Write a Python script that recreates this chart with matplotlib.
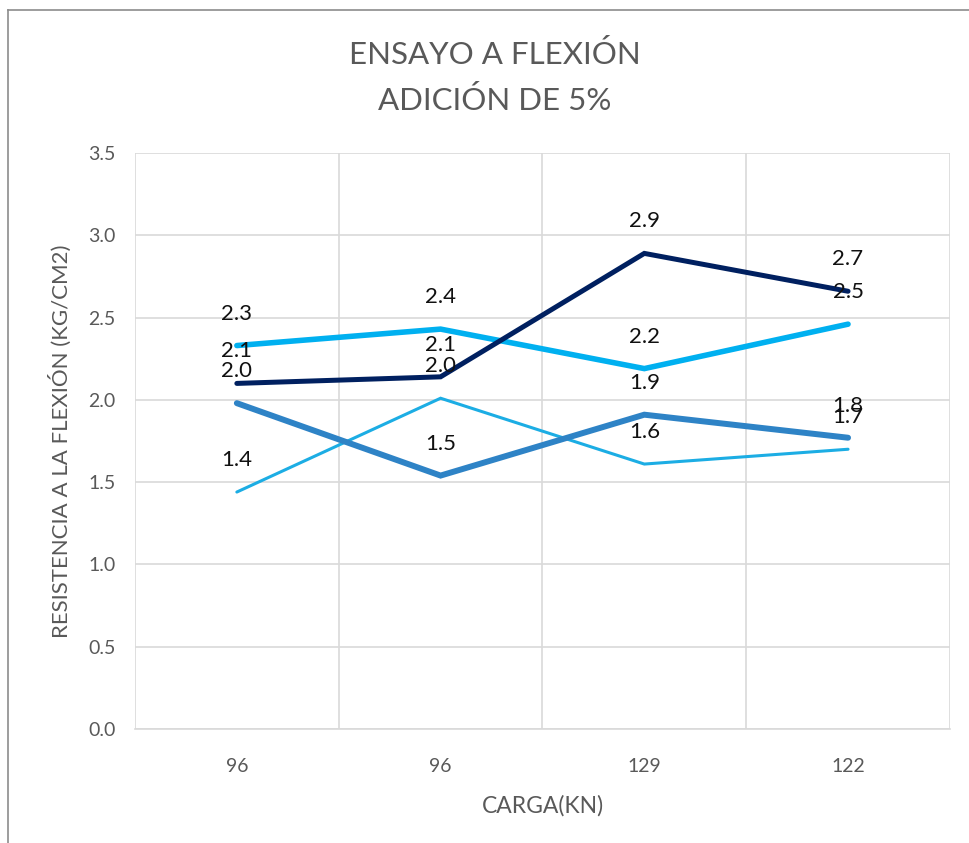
import numpy as np
import matplotlib.pyplot as plt

plt.rcParams['font.family'] = ['Lato', 'DejaVu Sans']

categories = ['96', '96', '129', '122']

# series drawn bottom to top
serie_celeste = [2.33, 2.43, 2.19, 2.46]
serie_fina = [1.44, 2.01, 1.61, 1.70]
serie_media = [1.98, 1.54, 1.91, 1.77]
serie_marino = [2.10, 2.14, 2.89, 2.66]

series = [
    (serie_celeste, '#00B0F0', 4.0),
    (serie_fina, '#1CADE4', 2.2),
    (serie_media, '#2E83C6', 4.3),
    (serie_marino, '#002060', 3.6),
]

gray = '#595959'

fig = plt.figure(figsize=(9.69, 8.43), dpi=100)
ax = fig.add_axes([0.1393, 0.1352, 0.8410, 0.6833])

x = np.arange(len(categories))
for vals, color, lw in series:
    ax.plot(x, vals, color=color, linewidth=lw, solid_capstyle='round',
            solid_joinstyle='miter', zorder=3)
    for xi, v in zip(x, vals):
        ax.annotate(f'{v:.1f}', (xi, v), xytext=(0, 23), textcoords='offset points',
                    ha='center', va='center', fontsize=16, color='#111111', zorder=4)

ax.set_xlim(-0.5, len(categories) - 0.5)
ax.set_ylim(0, 3.5)
ax.set_yticks(np.arange(0, 3.51, 0.5))
ax.set_yticklabels([f'{t:.1f}' for t in np.arange(0, 3.51, 0.5)])
ax.set_xticks(x)
ax.set_xticklabels(categories)
ax.set_xticks(np.arange(-0.5, len(categories), 1), minor=True)

ax.grid(axis='y', which='major', color='#D9D9D9', linewidth=1.2, zorder=0)
ax.grid(axis='x', which='minor', color='#D9D9D9', linewidth=1.2, zorder=0)
ax.grid(axis='x', which='major', visible=False)

for s in ['top', 'right', 'left']:
    ax.spines[s].set_visible(False)
ax.spines['bottom'].set_color('#D9D9D9')
ax.spines['bottom'].set_linewidth(1.2)

ax.tick_params(axis='both', which='both', length=0, labelsize=14, colors=gray)
ax.tick_params(axis='x', pad=21)
ax.tick_params(axis='y', pad=14)

ax.set_xlabel('CARGA(KN)', fontsize=16.5, color=gray, labelpad=14)
ax.set_ylabel('RESISTENCIA A LA FLEXIÓN (KG/CM2)', fontsize=16, color=gray, labelpad=12)

fig.text(0.511, 0.935, 'ENSAYO A FLEXIÓN', ha='center', va='center', fontsize=22.5, color=gray)
fig.text(0.511, 0.881, 'ADICIÓN DE 5%', ha='center', va='center', fontsize=22.5, color=gray)

# chart frame (left and top edges visible)
fig.add_artist(plt.Line2D([0.0083, 0.0083], [0, 0.988], transform=fig.transFigure,
                          color='#8C8C8C', linewidth=1.2))
fig.add_artist(plt.Line2D([0.0083, 1.0], [0.988, 0.988], transform=fig.transFigure,
                          color='#8C8C8C', linewidth=1.2))

fig.savefig('out.png', dpi=100)
